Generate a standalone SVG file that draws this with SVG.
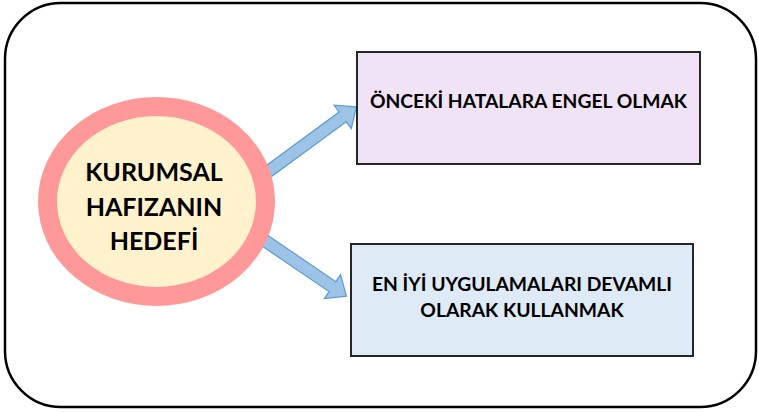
<svg xmlns="http://www.w3.org/2000/svg" width="759" height="412" viewBox="0 0 759 412">
  <defs>
    <style>
      .frame { fill: #ffffff; stroke: #000000; stroke-width: 2.5; }
      .box { stroke: #262626; stroke-width: 2; }
      .arrow { fill: #9DC3E6; stroke: #5B9BD5; stroke-width: 1.2; stroke-linejoin: miter; }
      .lbl { font-family: Lato, "Open Sans", "Liberation Sans", sans-serif; font-weight: bold; fill: #000000; text-anchor: middle; }
    </style>
  </defs>

  <!-- outer frame -->
  <rect class="frame" x="5" y="3" width="751" height="404" rx="56" ry="56"/>

  <!-- block arrows from the centre node to the goals -->
  <g id="connectors">
    <g transform="translate(262,176) rotate(-36.2)">
      <polygon class="arrow" points="0,-6 100,-6 100,-14.5 117,0 100,14.5 100,6 0,6"/>
    </g>
    <g transform="translate(258,236) rotate(34.2)">
      <polygon class="arrow" points="0,-6 90,-6 90,-14.5 107,0 90,14.5 90,6 0,6"/>
    </g>
  </g>

  <!-- centre node -->
  <g id="node-center">
    <ellipse cx="156.5" cy="201.5" rx="109" ry="95" fill="#FFF2CC" stroke="#FF9999" stroke-width="19"/>
    <text class="lbl" x="154" y="181" font-size="25">KURUMSAL</text>
    <text class="lbl" x="154" y="215.5" font-size="25">HAFIZANIN</text>
    <text class="lbl" x="154" y="250" font-size="25">HEDEFİ</text>
  </g>

  <!-- goal 1 -->
  <g id="node-goal1">
    <rect class="box" x="357" y="52" width="343" height="112" fill="#EFE3F5"/>
    <text class="lbl" x="528.5" y="108" font-size="19.3">ÖNCEKİ HATALARA ENGEL OLMAK</text>
  </g>

  <!-- goal 2 -->
  <g id="node-goal2">
    <rect class="box" x="351" y="244" width="342" height="112" fill="#DEEAF6"/>
    <text class="lbl" x="522" y="291" font-size="19.3">EN İYİ UYGULAMALARI DEVAMLI</text>
    <text class="lbl" x="522" y="317" font-size="19.3">OLARAK KULLANMAK</text>
  </g>
</svg>
